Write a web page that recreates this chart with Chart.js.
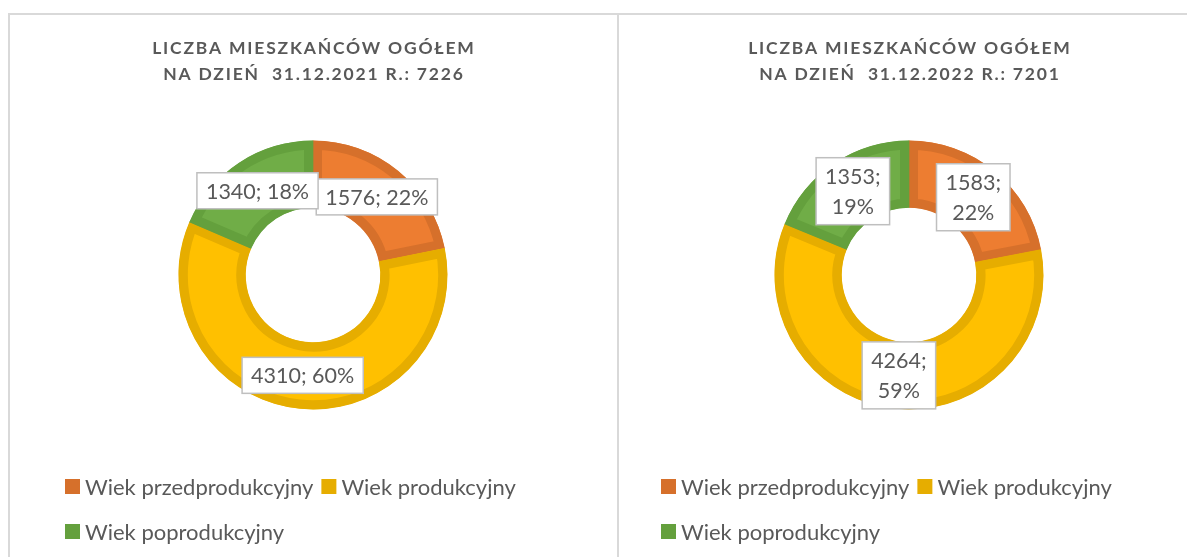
<!DOCTYPE html>
<html lang="pl">
<head>
<meta charset="utf-8">
<title>Liczba mieszkańców</title>
<script src="https://cdn.jsdelivr.net/npm/chart.js@4.4.0/dist/chart.umd.min.js"></script>
<style>
    html, body { margin: 0; padding: 0; background: #fff; overflow: hidden; }
    body { width: 1187px; height: 557px; position: relative; }
    .panel { position: absolute; top: 13px; height: 620px; border: 2px solid #d9d9d9; box-sizing: border-box; }
    #panel1 { left: 8px; width: 611px; }
    #panel2 { left: 617px; width: 600px; }
    canvas { position: absolute; top: 15px; }
    #wykres2021 { left: 10px; }
    #wykres2022 { left: 619px; }
</style>
</head>
<body>
<div class="panel" id="panel1"></div>
<div class="panel" id="panel2"></div>
<canvas id="wykres2021" width="606" height="542"></canvas>
<canvas id="wykres2022" width="568" height="542"></canvas>
<script>
// dane
const kategorie = ['Wiek przedprodukcyjny', 'Wiek produkcyjny', 'Wiek poprodukcyjny'];
const mieszkancy2021 = [1576, 4310, 1340];
const procent2021 = [22, 60, 18];
const mieszkancy2022 = [1583, 4264, 1353];
const procent2022 = [22, 59, 19];
const tytul2021 = ['LICZBA MIESZKAŃCÓW OGÓŁEM', 'NA DZIEŃ  31.12.2021 R.: 7226'];
const tytul2022 = ['LICZBA MIESZKAŃCÓW OGÓŁEM', 'NA DZIEŃ  31.12.2022 R.: 7201'];

const kolory = ['#ED7D31', '#FFC000', '#70AD47'];
const obramowania = ['#D6702B', '#E6AD00', '#64A03D'];
const szary = '#595959';
const czcionka = 'Lato, "Open Sans", sans-serif';

// plugin rysujący tytuł, etykiety danych i legendę
const opisyPlugin = {
    id: 'opisy',
    afterDraw(chart, args, opts) {
        const ctx = chart.ctx;
        const area = chart.chartArea;
        const cx = (area.left + area.right) / 2;

        // tytuł
        ctx.save();
        ctx.fillStyle = szary;
        ctx.font = 'bold 17.5px ' + czcionka;
        ctx.letterSpacing = '1.8px';
        ctx.textAlign = 'center';
        ctx.textBaseline = 'middle';
        opts.tytul.forEach((linia, i) => {
            ctx.fillText(linia, cx + 0.9, 33 + i * 26.5);
        });
        ctx.restore();

        // etykiety danych w ramkach
        const meta = chart.getDatasetMeta(0);
        const dane = chart.data.datasets[0].data;
        ctx.save();
        ctx.font = '21.5px ' + czcionka;
        ctx.textAlign = 'center';
        ctx.textBaseline = 'middle';
        meta.data.forEach((arc, i) => {
            const p = arc.getCenterPoint();
            const linie = opts.dwieLinie
                ? [dane[i] + ';', opts.procenty[i] + '%']
                : [dane[i] + '; ' + opts.procenty[i] + '%'];
            const szer = Math.max(...linie.map(t => ctx.measureText(t).width)) + 18;
            const wys = opts.dwieLinie ? 67 : 36;
            ctx.fillStyle = '#fff';
            ctx.fillRect(p.x - szer / 2, p.y - wys / 2, szer, wys);
            ctx.strokeStyle = '#BFBFBF';
            ctx.lineWidth = 1.5;
            ctx.strokeRect(p.x - szer / 2, p.y - wys / 2, szer, wys);
            ctx.fillStyle = szary;
            linie.forEach((t, j) => {
                const dy = opts.dwieLinie ? (j === 0 ? -15 : 15) : 0;
                ctx.fillText(t, p.x, p.y + dy + 1);
            });
        });
        ctx.restore();

        // legenda
        ctx.save();
        ctx.font = '22px ' + czcionka;
        ctx.textAlign = 'left';
        ctx.textBaseline = 'middle';
        let x = opts.legendaX;
        let y = 471.5;
        chart.data.labels.forEach((etykieta, i) => {
            const w = 15 + 5 + ctx.measureText(etykieta).width;
            if (x > opts.legendaX && x + w > opts.legendaX + 480) {
                x = opts.legendaX;
                y += 45;
            }
            ctx.fillStyle = obramowania[i];
            ctx.fillRect(x, y - 7.5, 15, 15);
            ctx.fillStyle = szary;
            ctx.fillText(etykieta, x + 20, y + 1);
            x += w + 8;
        });
        ctx.restore();
    }
};

function createDoughnut(canvasId, wartosci, procenty, tytul, ustawienia) {
    const ctx = document.getElementById(canvasId).getContext('2d');
    return new Chart(ctx, {
        type: 'doughnut',
        data: {
            labels: kategorie,
            datasets: [{
                data: wartosci,
                backgroundColor: kolory,
                borderColor: obramowania,
                borderWidth: 9,
                borderAlign: 'inner'
            }]
        },
        options: {
            responsive: false,
            animation: false,
            radius: 134.5,
            cutout: '50%',
            layout: { padding: ustawienia.padding },
            plugins: {
                legend: { display: false },
                tooltip: { enabled: false },
                title: { display: false },
                opisy: {
                    tytul: tytul,
                    procenty: procenty,
                    dwieLinie: ustawienia.dwieLinie,
                    legendaX: ustawienia.legendaX
                }
            }
        },
        plugins: [opisyPlugin]
    });
}

createDoughnut('wykres2021', mieszkancy2021, procent2021, tytul2021, {
    padding: { top: 120, bottom: 142, left: 0, right: 0 },
    dwieLinie: false,
    legendaX: 55
});
createDoughnut('wykres2022', mieszkancy2022, procent2022, tytul2022, {
    padding: { top: 120, bottom: 142, left: 12, right: 0 },
    dwieLinie: true,
    legendaX: 42
});
</script>
</body>
</html>
